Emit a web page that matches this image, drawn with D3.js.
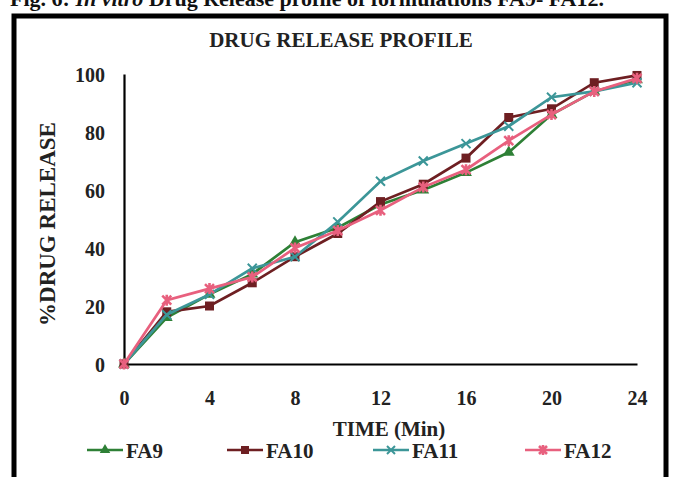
<!DOCTYPE html>
<html>
<head>
<meta charset="utf-8">
<script src="https://cdn.jsdelivr.net/npm/d3@7"></script>
<style>
  body { margin: 0; background: #fff; }
  svg { display: block; }
  .tick text { font-family: "Liberation Serif", serif; font-weight: bold; font-size: 20px; fill: #222; }
</style>
</head>
<body>
<svg width="678" height="477"></svg>
<script>
// time points (min) and % drug release per formulation
var times = [0, 2, 4, 6, 8, 10, 12, 14, 16, 18, 20, 22, 24];
var fa9  = [0, 16, 24, 31, 42, 47, 55, 60, 66, 73, 86, 94, 98];
var fa10 = [0, 18, 20, 28, 37, 45, 56, 62, 71, 85, 88, 97, 99.5];
var fa11 = [0, 17, 24, 33, 37, 49, 63, 70, 76, 82, 92, 94, 97];
var fa12 = [0, 22, 26, 30, 40, 46, 53, 61, 67, 77, 86, 94, 98.5];
var xTicks = [0, 4, 8, 12, 16, 20, 24];
var yTicks = [0, 20, 40, 60, 80, 100];

var series = [
  { name: "FA9",  values: fa9,  color: "#2e8036", symbol: d3.symbolTriangle },
  { name: "FA10", values: fa10, color: "#6e1f22", symbol: d3.symbolSquare },
  { name: "FA11", values: fa11, color: "#3c9698", symbol: "x" },
  { name: "FA12", values: fa12, color: "#e8607e", symbol: "star" }
];

var svg = d3.select("svg");
var serif = "Liberation Serif, serif";

// caption, cut off at the top of the picture
svg.append("text")
  .attr("x", 10).attr("y", 6)
  .attr("font-family", serif)
  .attr("font-weight", "bold")
  .attr("font-size", 22)
  .attr("fill", "#111")
  .html('Fig. 6: <tspan font-style="italic">In vitro</tspan> Drug Release profile of formulations FA9- FA12.');

// outer frame
svg.append("rect")
  .attr("x", 14).attr("y", 16)
  .attr("width", 652).attr("height", 480)
  .attr("fill", "none").attr("stroke", "#000").attr("stroke-width", 5);

var x = d3.scaleLinear().domain([0, 24]).range([124, 637]);
var y = d3.scaleLinear().domain([0, 100]).range([364, 74]);

// title
svg.append("text")
  .attr("x", 341).attr("y", 47)
  .attr("text-anchor", "middle")
  .attr("font-family", serif)
  .attr("font-weight", "bold")
  .attr("font-size", 21)
  .attr("fill", "#222")
  .text("DRUG RELEASE PROFILE");

/** axes */
var xAxis = svg.append("g")
  .attr("transform", `translate(0, ${y(0)})`)
  .call(d3.axisBottom(x).tickValues(xTicks).tickSize(0).tickPadding(27));
xAxis.select(".domain").attr("stroke", "#000").attr("stroke-width", 2.2);

var yAxis = svg.append("g")
  .attr("transform", `translate(${x(0)}, 0)`)
  .call(d3.axisLeft(y).tickValues(yTicks).tickSize(0).tickPadding(19));
yAxis.select(".domain").attr("stroke", "#000").attr("stroke-width", 2.2);
yAxis.selectAll(".tick text").attr("dy", "0.35em");

svg.append("text")
  .attr("x", 389).attr("y", 436)
  .attr("text-anchor", "middle")
  .attr("font-family", serif)
  .attr("font-weight", "bold")
  .attr("font-size", 21)
  .attr("fill", "#222")
  .text("TIME (Min)");

svg.append("text")
  .attr("transform", "translate(55, 224) rotate(-90)")
  .attr("text-anchor", "middle")
  .attr("font-family", serif)
  .attr("font-weight", "bold")
  .attr("font-size", 23)
  .attr("fill", "#222")
  .text("%DRUG RELEASE");

// marker drawing helper
function drawMarker(g, kind, color, size) {
  var s = size / 2;
  if (kind === "x") {
    g.append("path")
      .attr("d", `M${-s},${-s}L${s},${s}M${-s},${s}L${s},${-s}`)
      .attr("stroke", color).attr("stroke-width", 2).attr("fill", "none");
  } else if (kind === "star") {
    g.append("path")
      .attr("d", `M${-s},${-s}L${s},${s}M${-s},${s}L${s},${-s}M0,${-s - 1}L0,${s + 1}`)
      .attr("stroke", color).attr("stroke-width", 2.6).attr("fill", "none");
  } else {
    var area = kind === d3.symbolSquare ? size * size : size * size * 0.75;
    g.append("path")
      .attr("d", d3.symbol().type(kind).size(area)())
      .attr("fill", color);
  }
}

var line = d3.line()
  .x((d, i) => x(times[i]))
  .y(d => y(d));

series.forEach(function (s) {
  svg.append("path")
    .datum(s.values)
    .attr("d", line)
    .attr("fill", "none")
    .attr("stroke", s.color)
    .attr("stroke-width", 2.7);
  s.values.forEach(function (v, i) {
    var g = svg.append("g").attr("transform", `translate(${x(times[i])}, ${y(v)})`);
    drawMarker(g, s.symbol, s.color, 9);
  });
});

/** legend */
var legendX = [87, 227, 373, 525];
series.forEach(function (s, i) {
  var g = svg.append("g").attr("transform", `translate(${legendX[i]}, 450)`);
  g.append("line")
    .attr("x1", 0).attr("x2", 36)
    .attr("stroke", s.color).attr("stroke-width", 2.7);
  var m = g.append("g").attr("transform", "translate(18, 0)");
  drawMarker(m, s.symbol, s.color, 8);
  g.append("text")
    .attr("x", 39).attr("y", 8)
    .attr("font-family", serif)
    .attr("font-weight", "bold")
    .attr("font-size", 21)
    .attr("fill", "#222")
    .text(s.name);
});
</script>
</body>
</html>
